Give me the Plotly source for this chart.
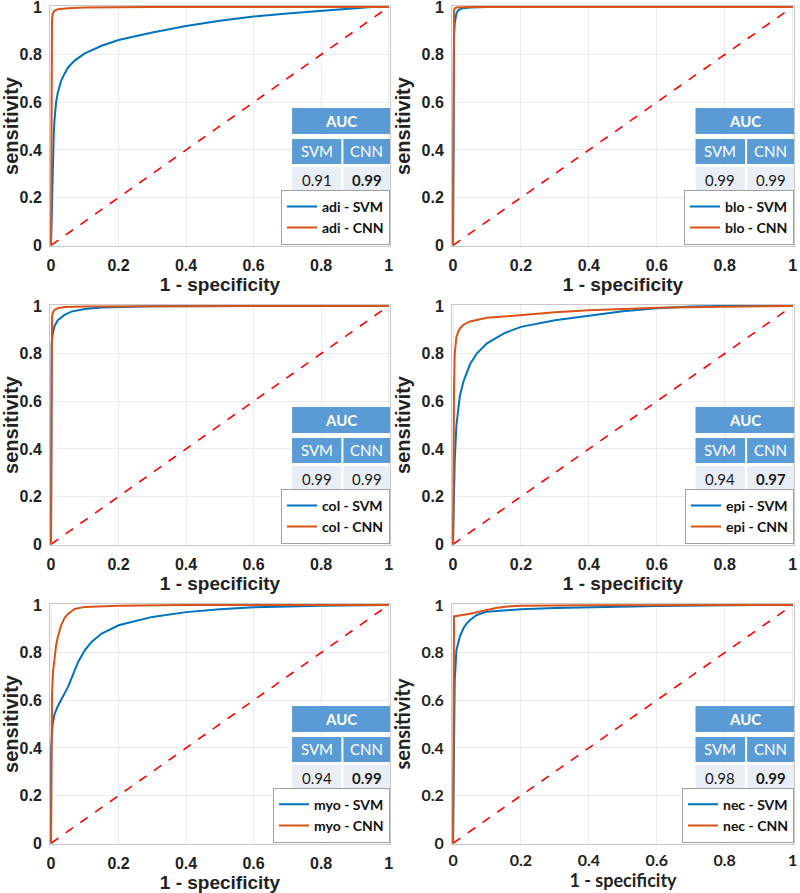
import plotly.graph_objects as go

# ---------------- data ----------------
classes = ["adi", "blo", "col", "epi", "myo", "nec"]
auc_svm = ["0.91", "0.99", "0.99", "0.94", "0.94", "0.98"]
auc_cnn = ["0.99", "0.99", "0.99", "0.97", "0.99", "0.99"]
cnn_bold = [True, False, False, True, True, True]

tick_vals = [0, 0.2, 0.4, 0.6, 0.8, 1]
tick_text = ["0", "0.2", "0.4", "0.6", "0.8", "1"]

diag_x = [0, 1]
diag_y = [0, 1]

adi_svm_fpr = [0, 0.002, 0.005, 0.008, 0.01, 0.015, 0.02, 0.03, 0.04, 0.05, 0.07, 0.1, 0.15, 0.2, 0.3, 0.4, 0.5, 0.6, 0.7, 0.8, 0.9, 0.95, 1]
adi_svm_tpr = [0, 0.15, 0.35, 0.46, 0.52, 0.6, 0.64, 0.69, 0.72, 0.745, 0.775, 0.805, 0.837, 0.861, 0.893, 0.92, 0.942, 0.96, 0.972, 0.984, 0.995, 1.0, 1.0]
adi_cnn_fpr = [0, 0.001, 0.003, 0.005, 0.01, 0.02, 0.05, 0.1, 0.3, 1]
adi_cnn_tpr = [0, 0.8, 0.95, 0.97, 0.984, 0.99, 0.995, 0.998, 1, 1]

blo_svm_fpr = [0, 0.001, 0.003, 0.005, 0.008, 0.01, 0.015, 0.02, 0.03, 0.05, 0.1, 1]
blo_svm_tpr = [0, 0.7, 0.88, 0.93, 0.96, 0.972, 0.985, 0.99, 0.995, 0.998, 1, 1]
blo_cnn_fpr = [0, 0.001, 0.003, 0.006, 0.01, 0.05, 1]
blo_cnn_tpr = [0, 0.95, 0.985, 0.995, 0.998, 1, 1]

col_svm_fpr = [0, 0.001, 0.002, 0.005, 0.01, 0.02, 0.04, 0.06, 0.1, 0.15, 0.2, 0.3, 1]
col_svm_tpr = [0, 0.78, 0.84, 0.88, 0.914, 0.94, 0.962, 0.976, 0.987, 0.993, 0.996, 0.999, 1]
col_cnn_fpr = [0, 0.001, 0.003, 0.005, 0.01, 0.02, 0.04, 0.1, 1]
col_cnn_tpr = [0, 0.85, 0.95, 0.97, 0.983, 0.99, 0.995, 0.998, 1]

epi_svm_fpr = [0, 0.002, 0.005, 0.01, 0.02, 0.03, 0.05, 0.07, 0.1, 0.15, 0.2, 0.3, 0.4, 0.5, 0.6, 0.7, 0.8, 1]
epi_svm_tpr = [0, 0.2, 0.35, 0.5, 0.62, 0.68, 0.755, 0.8, 0.843, 0.885, 0.912, 0.94, 0.96, 0.978, 0.99, 0.998, 1, 1]
epi_cnn_fpr = [0, 0.001, 0.003, 0.005, 0.008, 0.01, 0.015, 0.02, 0.03, 0.05, 0.1, 0.2, 0.3, 0.4, 0.6, 0.8, 1]
epi_cnn_tpr = [0, 0.4, 0.65, 0.8, 0.85, 0.87, 0.89, 0.905, 0.92, 0.935, 0.95, 0.963, 0.973, 0.982, 0.992, 0.997, 1]

myo_svm_fpr = [0, 0.0005, 0.005, 0.01, 0.02, 0.03, 0.04, 0.05, 0.06, 0.07, 0.08, 0.1, 0.12, 0.15, 0.2, 0.3, 0.4, 0.5, 0.6, 0.8, 1]
myo_svm_tpr = [0, 0.4, 0.5, 0.54, 0.575, 0.6, 0.625, 0.655, 0.69, 0.726, 0.76, 0.81, 0.845, 0.88, 0.915, 0.95, 0.97, 0.982, 0.99, 0.997, 1]
myo_cnn_fpr = [0, 0.001, 0.003, 0.006, 0.01, 0.015, 0.02, 0.03, 0.04, 0.05, 0.07, 0.1, 0.2, 0.4, 1]
myo_cnn_tpr = [0, 0.45, 0.62, 0.72, 0.78, 0.83, 0.865, 0.915, 0.945, 0.962, 0.983, 0.992, 0.997, 1, 1]

nec_svm_fpr = [0, 0.002, 0.005, 0.01, 0.015, 0.02, 0.03, 0.04, 0.05, 0.07, 0.1, 0.15, 0.2, 0.3, 0.4, 0.6, 0.8, 1]
nec_svm_tpr = [0, 0.45, 0.68, 0.81, 0.845, 0.867, 0.9, 0.922, 0.937, 0.958, 0.972, 0.978, 0.982, 0.987, 0.991, 0.996, 0.999, 1]
nec_cnn_fpr = [0, 0.001, 0.003, 0.05, 0.08, 0.1, 0.13, 0.17, 0.2, 0.4, 0.7, 1]
nec_cnn_tpr = [0, 0.95, 0.952, 0.963, 0.972, 0.978, 0.988, 0.995, 0.997, 0.999, 1, 1]

svm_fpr = [adi_svm_fpr, blo_svm_fpr, col_svm_fpr, epi_svm_fpr, myo_svm_fpr, nec_svm_fpr]
svm_tpr = [adi_svm_tpr, blo_svm_tpr, col_svm_tpr, epi_svm_tpr, myo_svm_tpr, nec_svm_tpr]
cnn_fpr = [adi_cnn_fpr, blo_cnn_fpr, col_cnn_fpr, epi_cnn_fpr, myo_cnn_fpr, nec_cnn_fpr]
cnn_tpr = [adi_cnn_tpr, blo_cnn_tpr, col_cnn_tpr, epi_cnn_tpr, myo_cnn_tpr, nec_cnn_tpr]

# ---------------- style ----------------
SVM_COLOR = "#0072BD"
CNN_COLOR = "#D95319"
HEAD_COLOR = "#5B9BD5"
VAL_COLOR = "#E9EEF6"
AX_FONT = "Liberation Sans"
TAB_FONT = "Lato"

col_dom = [(0.0625, 0.4875), (0.565, 0.9925)]
row_dom = [(0.7245, 0.9933), (0.3897, 0.6585), (0.0549, 0.3236)]

fig = go.Figure()
layout = dict(
    width=800, height=893,
    margin=dict(l=0, r=0, t=0, b=0, autoexpand=False),
    paper_bgcolor="white", plot_bgcolor="white",
    shapes=[], annotations=[],
)

for i, name in enumerate(classes):
    r, c = divmod(i, 2)
    n = "" if i == 0 else str(i + 1)
    xa, ya = "x" + n, "y" + n
    lg = "legend" + n
    is_nec = name == "nec"
    fam = TAB_FONT if is_nec else AX_FONT

    fig.add_trace(go.Scatter(x=diag_x, y=diag_y, mode="lines", xaxis=xa, yaxis=ya,
                             line=dict(color="#FF0000", width=1.6, dash="dash"),
                             showlegend=False, hoverinfo="skip"))
    fig.add_trace(go.Scatter(x=svm_fpr[i], y=svm_tpr[i], mode="lines", xaxis=xa, yaxis=ya,
                             name=f"{name} - SVM", legend=lg,
                             line=dict(color=SVM_COLOR, width=2)))
    fig.add_trace(go.Scatter(x=cnn_fpr[i], y=cnn_tpr[i], mode="lines", xaxis=xa, yaxis=ya,
                             name=f"{name} - CNN", legend=lg,
                             line=dict(color=CNN_COLOR, width=2)))

    axis_common = dict(
        range=[-0.003, 1.004], tickvals=tick_vals, ticktext=tick_text,
        showgrid=True, gridcolor="#EBEBEB", gridwidth=1,
        zeroline=False, showline=True, mirror=True, linecolor="#C8C8C8", linewidth=1,
        ticks="", tickfont=dict(family=fam, size=16, color="#222", weight="bold"),
        ticklabeloverflow="allow",
        fixedrange=True, automargin=False,
    )
    layout["xaxis" + n] = dict(axis_common, domain=list(col_dom[c]), anchor=ya,
                               ticklabelstandoff=2 if is_nec else 5,
                               title=dict(text="1 - specificity", standoff=1 if is_nec else 3,
                                          font=dict(family=fam, size=18 if is_nec else 19,
                                                    color="#222", weight="bold")))
    layout["yaxis" + n] = dict(axis_common, domain=list(row_dom[r]), anchor=xa,
                               ticklabelstandoff=4,
                               title=dict(text="sensitivity", standoff=5,
                                          font=dict(family=fam, size=20, color="#222", weight="bold")))

    # legend box
    layout[lg] = dict(
        x=col_dom[c][1], xanchor="right",
        y=row_dom[r][0] + 0.005 * (row_dom[r][1] - row_dom[r][0]), yanchor="bottom",
        bgcolor="white", bordercolor="#A0A0A0", borderwidth=1,
        font=dict(family=TAB_FONT, size=14, color="#111", weight="bold"),
        itemwidth=30, tracegroupgap=0, traceorder="normal",
    )

    # AUC table
    xr, yr = xa + " domain", ya + " domain"
    cells = [
        (0.712, 1.0, 0.467, 0.575, HEAD_COLOR, "AUC", "white", "bold", 15),
        (0.712, 0.857, 0.342, 0.446, HEAD_COLOR, "SVM", "white", "normal", 15),
        (0.863, 1.0, 0.342, 0.446, HEAD_COLOR, "CNN", "white", "normal", 15),
        (0.712, 0.857, 0.221, 0.329, VAL_COLOR, auc_svm[i], "#1a1a1a", "normal", 15),
        (0.863, 1.0, 0.221, 0.329, VAL_COLOR, auc_cnn[i], "#1a1a1a",
         "bold" if cnn_bold[i] else "normal", 15),
    ]
    for x0, x1, y0, y1, fc, txt, tc, w, fs in cells:
        layout["shapes"].append(dict(type="rect", xref=xr, yref=yr, x0=x0, x1=x1, y0=y0, y1=y1,
                                     fillcolor=fc, line=dict(width=0), layer="above"))
        layout["annotations"].append(dict(xref=xr, yref=yr, x=(x0 + x1) / 2, y=(y0 + y1) / 2,
                                          xanchor="center", yanchor="middle",
                                          text=txt, showarrow=False,
                                          font=dict(family=TAB_FONT, size=fs, color=tc, weight=w)))

fig.update_layout(**layout)
fig.write_html("out.html", config={"displayModeBar": False},
               post_script="document.body.style.margin='0';document.body.style.overflow='hidden';")
